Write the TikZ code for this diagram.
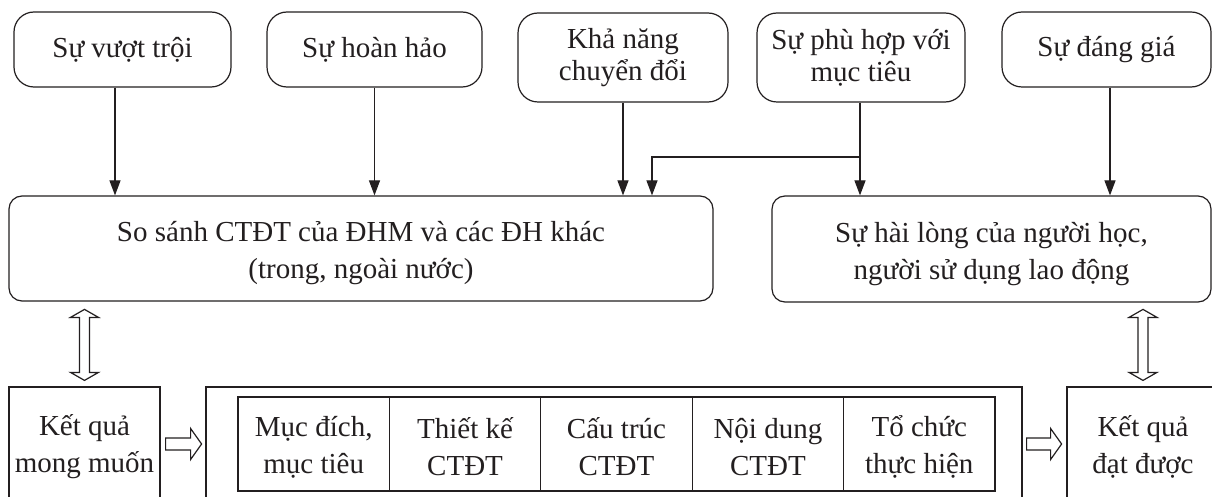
\documentclass[tikz,border=0pt]{standalone}
\usepackage{fontspec}
\setmainfont{Liberation Serif}
\usetikzlibrary{arrows.meta,calc}
\definecolor{ink}{HTML}{231F20}
\begin{document}
\begin{tikzpicture}[x=1pt,y=-1pt,
  every node/.style={text=ink, inner sep=0pt, align=center},
  topbox/.style={draw=ink, line width=1.2pt, rounded corners=20pt, font={\fontsize{29}{32}\selectfont}},
  bigbox/.style={draw=ink, line width=1.2pt, rounded corners=13pt},
  sqbox/.style={draw=ink, line width=1.2pt},
  cell/.style={draw=ink, line width=1.2pt, minimum width=151.4pt, minimum height=94pt},
  txt/.style={font={\fontsize{29}{37}\selectfont}},
  arr/.style={draw=ink, line width=1.2pt, -{Triangle[length=15pt,width=11pt]}},
  hollow/.style={draw=ink, line width=1.2pt, fill=white, line join=miter}
]
\clip (0,0) rectangle (1212,497);
\fill[white] (0,0) rectangle (1212,497);

% top boxes
\node[topbox, minimum width=217pt, minimum height=75pt] (t1) at (122.5,49.5) {Sự vượt trội};
\node[topbox, minimum width=215pt, minimum height=75pt] (t2) at (374.5,49.5) {Sự hoàn hảo};
\node[topbox, minimum width=210pt, minimum height=89pt] (t3) at (623,57.5) {Khả năng\\chuyển đổi};
\node[topbox, minimum width=208pt, minimum height=89pt] (t4) at (861,57.5) {Sự phù hợp với\\mục tiêu};
\node[topbox, minimum width=209pt, minimum height=75pt] (t5) at (1106.5,49.5) {Sự đáng giá};

% big boxes
\node[bigbox, minimum width=704pt, minimum height=105pt] (b1) at (361,248.5) {};
\node[txt] (b1t) at ([yshift=-5pt]b1.center) {So sánh CTĐT của ĐHM và các ĐH khác\\(trong, ngoài nước)};
\node[bigbox, minimum width=439pt, minimum height=106pt] (b2) at (991.5,249) {};
\node[txt] (b2t) at ([yshift=-5pt]b2.center) {Sự hài lòng của người học,\\người sử dụng lao động};

% arrows from top boxes
\draw[arr] ([xshift=-7.5pt]t1.south) -- ([xshift=-7.5pt]t1.south |- b1.north);
\draw[arr] (t2.south) -- (t2.south |- b1.north);
\draw[arr] (t3.south) -- (t3.south |- b1.north);
\draw[arr] ([xshift=-1pt]t4.south) -- ([xshift=-1pt]t4.south |- b2.north);
\coordinate (j) at (860,157);
\coordinate (k) at (652,157);
\draw[arr] (j) -- (k) -- (k |- b1.north);
\draw[arr] ([xshift=3.5pt]t5.south) -- ([xshift=3.5pt]t5.south |- b2.north);

% bottom boxes
\node[sqbox, minimum width=151pt, minimum height=118pt] (k1) at (84.5,446) {};
\node[txt] (k1t) at (84.5,447) {Kết quả\\mong muốn};
\node[sqbox, minimum width=816pt, minimum height=118pt] (mid) at (614,446) {};
\node[sqbox, minimum width=152pt, minimum height=118pt] (k2) at (1143,446) {};
\node[txt] (k2t) at (1143,447) {Kết quả\\đạt được};

% cells
\node[cell] (c1) at (313.7,444) {};
\node[cell] (c2) at (465.1,444) {};
\node[cell] (c3) at (616.5,444) {};
\node[cell] (c4) at (767.9,444) {};
\node[cell] (c5) at (919.3,444) {};
\node[txt] (c1t) at ([yshift=-3pt]c1.center) {Mục đích,\\mục tiêu};
\node[txt] (c2t) at ([yshift=-3pt]c2.center) {Thiết kế\\CTĐT};
\node[txt] (c3t) at ([yshift=-3pt]c3.center) {Cấu trúc\\CTĐT};
\node[txt] (c4t) at ([yshift=-3pt]c4.center) {Nội dung\\CTĐT};
\node[txt] (c5t) at ([yshift=-3pt]c5.center) {Tổ chức\\thực hiện};

% double arrows
\draw[hollow] ($(k1.north)+(0,-6)$) -- ++(14,-8) -- ++(-9,0) -- ++(0,-55) -- ++(9,0) -- ++(-14,-8)
  -- ++(-14,8) -- ++(9,0) -- ++(0,55) -- ++(-9,0) -- cycle;
\draw[hollow] ($(k2.north)+(0,-6)$) -- ++(14,-8) -- ++(-9,0) -- ++(0,-55) -- ++(9,0) -- ++(-14,-8)
  -- ++(-14,8) -- ++(9,0) -- ++(0,55) -- ++(-9,0) -- cycle;

% horizontal hollow arrows
\draw[hollow] ($(k1.east)+(5,-8)$) -- ++(25,0) -- ++(0,-9.5) -- ++(11,15.5) -- ++(-11,15.5)
  -- ++(0,-9.5) -- ++(-25,0) -- cycle;
\draw[hollow] ($(mid.east)+(4,-8)$) -- ++(24,0) -- ++(0,-9.5) -- ++(11,15.5) -- ++(-11,15.5)
  -- ++(0,-9.5) -- ++(-24,0) -- cycle;
\end{tikzpicture}
\end{document}
